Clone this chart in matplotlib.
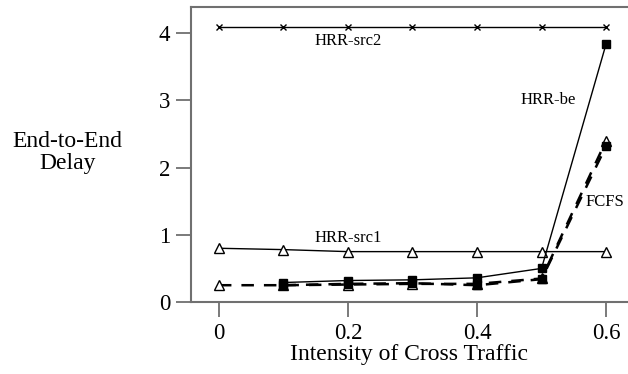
import matplotlib
matplotlib.use("Agg")
import matplotlib.pyplot as plt

# data
x = [0, 0.1, 0.2, 0.3, 0.4, 0.5, 0.6]
hrr_src2 = [4.1, 4.1, 4.1, 4.1, 4.1, 4.1, 4.1]
hrr_src1 = [0.8, 0.78, 0.75, 0.75, 0.75, 0.75, 0.75]
x_be = [0.1, 0.2, 0.3, 0.4, 0.5, 0.6]
hrr_be = [0.29, 0.32, 0.33, 0.36, 0.5, 3.84]
fcfs_src1 = [0.25, 0.25, 0.26, 0.27, 0.27, 0.35, 2.4]
fcfs_be = [0.25, 0.27, 0.28, 0.25, 0.34, 2.32]

xticks = [0, 0.2, 0.4, 0.6]
yticks = [0, 1, 2, 3, 4]

plt.rcParams['font.family'] = ['Liberation Serif', 'DejaVu Serif']

fig = plt.figure(figsize=(6.28, 3.74), dpi=100)
ax = fig.add_axes([0.304, 0.1925, 0.696, 0.7885])

ax.plot(x, hrr_src2, '-', color='k', lw=1.0, marker='x', ms=5, mew=1.0)
ax.plot(x, hrr_src1, '-', color='k', lw=1.0, marker='^', ms=7, mfc='white', mew=1.0)
ax.plot(x_be, hrr_be, '-', color='k', lw=1.0, marker='s', ms=6)
ax.plot(x, fcfs_src1, '--', color='k', lw=1.8, dashes=(5, 4), marker='^', ms=7, mfc='white', mew=1.0)
ax.plot(x_be, fcfs_be, '--', color='k', lw=1.8, dashes=(5, 4), marker='s', ms=6)

ax.text(0.2, 3.88, 'HRR-src2', ha='center', va='center', fontsize=12)
ax.text(0.2, 0.95, 'HRR-src1', ha='center', va='center', fontsize=12)
ax.text(0.51, 3.0, 'HRR-be', ha='center', va='center', fontsize=12)
ax.text(0.598, 1.49, 'FCFS', ha='center', va='center', fontsize=12)

ax.set_xlim(-0.0434, 0.634)
ax.set_ylim(0, 4.39)
ax.set_xticks(xticks)
ax.set_xticklabels(['0', '0.2', '0.4', '0.6'])
ax.set_yticks(yticks)

ax.spines['right'].set_visible(False)
for s in ['left', 'bottom', 'top']:
    ax.spines[s].set_color('#707070')
    ax.spines[s].set_linewidth(1.5)
ax.tick_params(direction='out', length=11, width=1.3, color='#707070',
               labelsize=16.5, pad=4)

ax.set_xlabel('Intensity of Cross Traffic', fontsize=17, labelpad=0)
fig.text(0.108, 0.592, 'End-to-End\nDelay', ha='center', va='center', fontsize=17,
         linespacing=1.05)

fig.savefig('out.png', dpi=100)
